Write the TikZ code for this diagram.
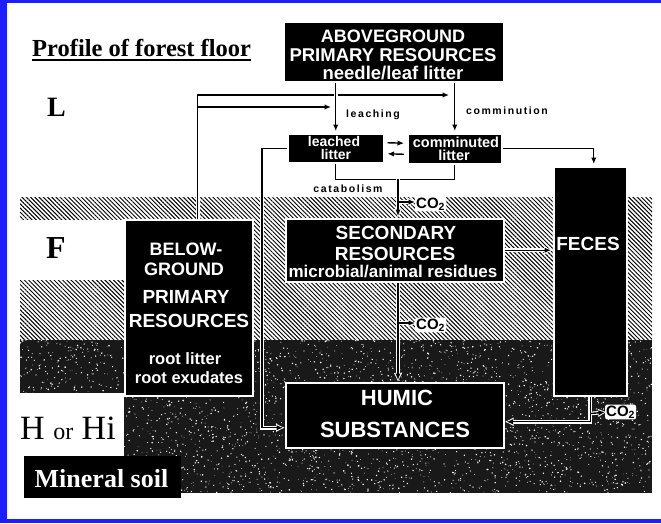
\documentclass[tikz,border=0pt]{standalone}
\usepackage{fontspec}
\setmainfont{Liberation Serif}
\newfontfamily\hv{Liberation Sans}
\newfontfamily\hvsp{Liberation Sans}[LetterSpace=15]
\usetikzlibrary{patterns.meta,arrows.meta}
\definecolor{frameblue}{RGB}{30,30,250}
\newcommand\fsz[1]{\fontsize{#1}{#1}\selectfont}
\begin{document}
\begin{tikzpicture}[x=1pt,y=-1pt,
  box/.style={fill=black, draw=white, line width=1.5pt, inner sep=0pt, anchor=north west},
  wt/.style={text=white, anchor=base, inner sep=0pt},
  lbl/.style={text=black, anchor=base, inner sep=0pt, font=\hvsp\bfseries\fsz{10.5}},
  ser/.style={text=black, anchor=base west, inner sep=0pt},
  ln/.style={line width=1.4pt, preaction={draw=white, line width=3.6pt}},
  conn/.style={line width=1.4pt,
    preaction={draw=white, line width=3.6pt, -{Latex[length=9pt,width=9pt]}, shorten >=0pt},
    -{Latex[length=6.5pt,width=5.5pt]}, shorten >=2pt},
  co/.style={fill=white, rounded corners=2pt, inner sep=1pt, anchor=west, font=\hv\bfseries\fsz{15}}
]
\useasboundingbox (0,0) rectangle (661,523);
\fill[frameblue] (0,0) rectangle (661,523);
\fill[white] (7,3) rectangle (661,519);
% soil textures
\fill[pattern={Lines[angle=-45,distance=3pt,line width=0.95pt]}, pattern color=black] (20,197) rectangle (652,340);
\fill[white] (20,220) rectangle (124,280);
\fill[black!90] (20,340) rectangle (652,493);
\pgfmathsetseed{11}
\foreach \i in {1,...,3400}{\fill[white] ({20+632*rnd},{340+153*rnd}) circle ({0.3+0.55*rnd});}
\fill[white] (20,393) rectangle (124,497);

% left labels
\node[ser, font=\bfseries\fsz{24.5}] (title) at (32,56) {Profile of forest floor};
\draw[line width=1.3pt] ([yshift=-4pt]title.base west) -- ([yshift=-4pt]title.base east);
\node[ser, font=\bfseries\fsz{28}] (lL) at (47,116) {L};
\node[ser, font=\bfseries\fsz{32}] (lF) at (46,258) {F};
\node[ser, font=\fsz{34}] (lH) at (20,439) {H {\fsz{24}or} Hi};
\node[box, minimum width=157pt, minimum height=42pt, draw=none] (mineral) at (23,455) {};
\node[wt, font=\bfseries\fsz{26}] (mineraltxt) at (101.5,487) {Mineral soil};

% boxes
\node[box, minimum width=220pt, minimum height=60pt] (above) at (283,21) {};
\node[box, minimum width=96pt, minimum height=29pt] (leached) at (287,133) {};
\node[box, minimum width=94pt, minimum height=30pt] (comm) at (407,133) {};
\node[box, minimum width=218pt, minimum height=63pt] (secondary) at (285,218) {};
\node[box, minimum width=73pt, minimum height=229pt] (feces) at (553,166) {};
\node[box, minimum width=128pt, minimum height=176pt] (below) at (124,219) {};
\node[box, minimum width=218pt, minimum height=65pt] (humic) at (285,382) {};

% box texts
\node[wt, font=\hv\bfseries\fsz{18}] (a1) at (393,42) {ABOVEGROUND};
\node[wt, font=\hv\bfseries\fsz{18.5}] (a2) at (393,61.5) {PRIMARY RESOURCES};
\node[wt, font=\hv\bfseries\fsz{18.5}] (a3) at (393,79) {needle/leaf litter};
\node[wt, font=\hv\bfseries\fsz{14}] (l1) at (334,146.5) {leached};
\node[wt, font=\hv\bfseries\fsz{14}] (l2) at (336,159.5) {litter};
\node[wt, font=\hv\bfseries\fsz{14.5}] (c1) at (456,147) {comminuted};
\node[wt, font=\hv\bfseries\fsz{14.5}] (c2) at (454,160) {litter};
\node[wt, font=\hv\bfseries\fsz{19}] (s1) at (396,239) {SECONDARY};
\node[wt, font=\hv\bfseries\fsz{19}] (s2) at (395,260) {RESOURCES};
\node[wt, font=\hv\bfseries\fsz{17}] (s3) at (393,277) {microbial/animal residues};
\node[wt, font=\hv\bfseries\fsz{19}] (f1) at (588,250) {FECES};
\node[wt, font=\hv\bfseries\fsz{18}] (b1) at (186,255) {BELOW-};
\node[wt, font=\hv\bfseries\fsz{18}] (b2) at (184,275) {GROUND};
\node[wt, font=\hv\bfseries\fsz{19}] (b3) at (186,303) {PRIMARY};
\node[wt, font=\hv\bfseries\fsz{19}] (b4) at (189,327) {RESOURCES};
\node[wt, font=\hv\bfseries\fsz{16.5}] (b5) at (185,364) {root litter};
\node[wt, font=\hv\bfseries\fsz{16.5}] (b6) at (189,383) {root exudates};
\node[wt, font=\hv\bfseries\fsz{22}] (h1) at (397,405) {HUMIC};
\node[wt, font=\hv\bfseries\fsz{22}] (h2) at (395,437) {SUBSTANCES};

% small labels
\node[lbl] (leaching) at (373,117) {leaching};
\node[lbl] (comminution) at (507,114) {comminution};
\node[lbl] (catabolism) at (348,192) {catabolism};

% connectors
\coordinate (bv) at (197.7,107);
\coordinate (jc) at (451,95);
\draw[conn] ([xshift=9pt]below.north) |- (jc);
\draw[conn] (bv) -- (333,107);
\draw[conn] (above.south -| leached.north) -- (leached.north);
\draw[conn] (above.south -| comm.north) -- (comm.north);
\draw[conn] ([xshift=3pt,yshift=5.5pt]leached.east) -- ([xshift=-1pt,yshift=5.5pt]comm.west);
\draw[conn] ([xshift=-3pt,yshift=-5.5pt]comm.west) -- ([xshift=1pt,yshift=-5.5pt]leached.east);
\draw[ln] (leached.south) -- ++(0,16) -| (comm.south);
\coordinate (br) at (398,178.7);
\draw[conn] (br) -- (br |- secondary.north);
\node[co] (co1) at (415,204) {CO\textsubscript{2}};
\draw[conn] (398.7,202) -- ([xshift=2pt]co1.west |- 0,202);
\draw[conn] (secondary.south -| br) -- (humic.north -| br);
\node[co] (co2) at (415,325) {CO\textsubscript{2}};
\draw[conn] (398.7,323) -- ([xshift=2pt]co2.west |- 0,323);
\draw[conn] (secondary.east) -- (feces.west |- secondary.east);
\draw[conn] (comm.east) -| ([xshift=3.5pt]feces.north);
\draw[conn] (leached.west) -- ++(-25,0) |- ([yshift=-12.5pt]humic.west);
\draw[conn] (feces.south) |- ([yshift=-6.5pt]humic.east);
\node[co] (co3) at (605,412) {CO\textsubscript{2}};
\draw[conn] ([xshift=0.7pt,yshift=-17pt]feces.south) -- ([xshift=2pt]co3.west);
\end{tikzpicture}
\end{document}
